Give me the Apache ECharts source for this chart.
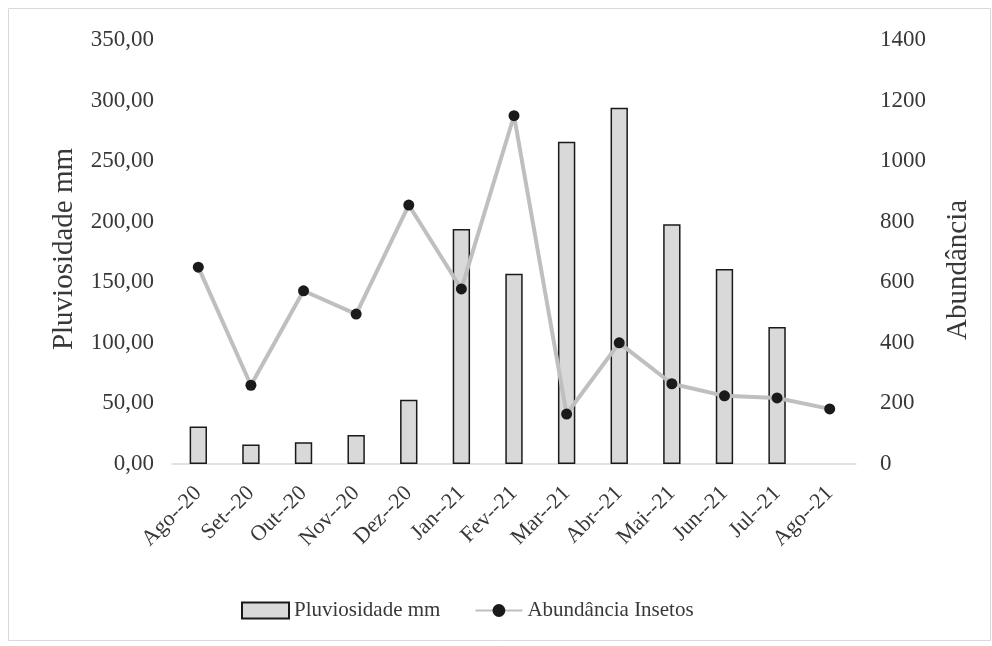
<!DOCTYPE html>
<html>
<head>
<meta charset="utf-8">
<script src="https://cdn.jsdelivr.net/npm/echarts@6/dist/echarts.min.js"></script>
<style>
  html, body { margin: 0; padding: 0; background: #ffffff; }
  #chart { width: 992px; height: 646px; }
</style>
</head>
<body>
<div id="chart"></div>
<script>
// Monthly rainfall (mm) and insect abundance, Aug 2020 – Aug 2021
const months = ['Ago--20', 'Set--20', 'Out--20', 'Nov--20', 'Dez--20', 'Jan--21', 'Fev--21',
                'Mar--21', 'Abr--21', 'Mai--21', 'Jun--21', 'Jul--21', 'Ago--21'];
const rainfall = [31, 16, 18, 24, 53, 194, 157, 266, 294, 198, 161, 113, null];
const abundance = [650, 260, 572, 495, 855, 578, 1150, 165, 400, 265, 225, 218, 182];

const leftTicks = { min: 0, max: 350, step: 50 };
const rightTicks = { min: 0, max: 1400, step: 200 };

const serif = "'Liberation Serif', 'Times New Roman', serif";
const textColor = '#383838';

const chart = echarts.init(document.getElementById('chart'));
chart.setOption({
  animation: false,
  backgroundColor: '#ffffff',
  textStyle: { fontFamily: serif },
  graphic: [{
    type: 'rect',
    shape: { x: 8.5, y: 8.5, width: 982, height: 632 },
    style: { fill: 'none', stroke: '#d9d9d9', lineWidth: 1 },
    silent: true
  }],
  grid: { left: 172, right: 136, top: 40, bottom: 182 },
  legend: {
    bottom: 20,
    left: 236,
    itemGap: 34,
    itemWidth: 47,
    itemHeight: 16,
    textStyle: { fontFamily: serif, fontSize: 21, color: textColor },
    data: [
      { name: 'Pluviosidade mm', icon: 'rect' },
      { name: 'Abundância Insetos' }
    ]
  },
  xAxis: {
    type: 'category',
    data: months,
    axisLine: { lineStyle: { color: '#d9d9d9', width: 1.5 } },
    axisTick: { show: false },
    axisLabel: {
      rotate: 45,
      interval: 0,
      margin: 26,
      fontFamily: serif,
      fontSize: 22,
      color: textColor
    }
  },
  yAxis: [{
    type: 'value',
    min: leftTicks.min,
    max: leftTicks.max,
    interval: leftTicks.step,
    name: 'Pluviosidade mm',
    nameLocation: 'middle',
    nameGap: 93,
    nameRotate: 90,
    nameTextStyle: { fontFamily: serif, fontSize: 29, color: textColor, padding: [0, 0, 0, 6] },
    axisLine: { show: false },
    axisTick: { show: false },
    splitLine: { show: false },
    axisLabel: {
      margin: 18,
      fontFamily: serif,
      fontSize: 23,
      color: textColor,
      formatter: v => v.toFixed(2).replace('.', ',')
    }
  }, {
    type: 'value',
    min: rightTicks.min,
    max: rightTicks.max,
    interval: rightTicks.step,
    name: 'Abundância',
    nameLocation: 'middle',
    nameGap: 88,
    nameRotate: 90,
    nameTextStyle: { fontFamily: serif, fontSize: 29, color: textColor, padding: [0, 36, 0, 0] },
    axisLine: { show: false },
    axisTick: { show: false },
    splitLine: { show: false },
    axisLabel: {
      margin: 24,
      fontFamily: serif,
      fontSize: 23,
      color: textColor,
      formatter: v => String(v)
    }
  }],
  series: [{
    name: 'Pluviosidade mm',
    type: 'bar',
    yAxisIndex: 0,
    data: rainfall,
    barWidth: '33%',
    itemStyle: { color: '#d9d9d9', borderColor: '#1a1a1a', borderWidth: 1.5 }
  }, {
    name: 'Abundância Insetos',
    type: 'line',
    yAxisIndex: 1,
    data: abundance,
    symbol: 'circle',
    symbolSize: 11,
    lineStyle: { color: '#bfbfbf', width: 4 },
    itemStyle: { color: '#1a1a1a' },
    z: 3
  }]
});
</script>
</body>
</html>
